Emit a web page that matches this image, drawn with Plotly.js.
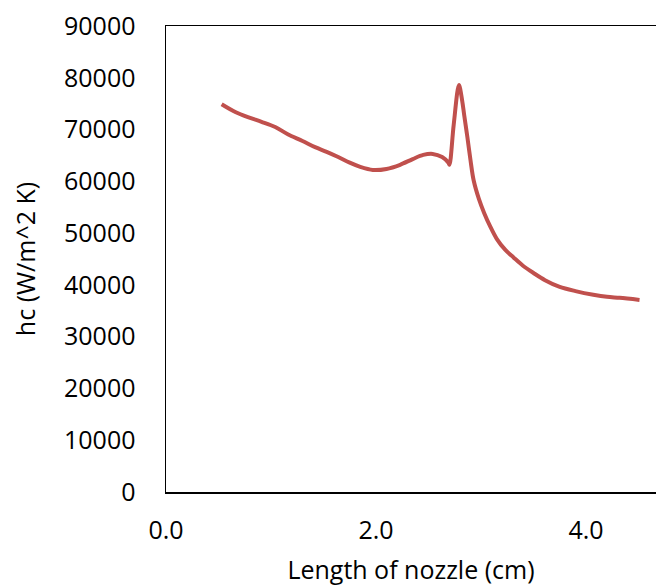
<!DOCTYPE html>
<html>
<head>
<meta charset="utf-8">
<script src="https://cdn.plot.ly/plotly-3.0.1.min.js"></script>
<style>html,body{margin:0;padding:0;background:#fff;overflow:hidden;}#chart{width:656px;height:586px;}</style>
</head>
<body>
<div id="chart"></div>
<script>
const nozzleLength = [0.53, 0.66, 0.78, 0.91, 1.04, 1.16, 1.30, 1.42, 1.53, 1.64, 1.75, 1.85, 1.97, 2.10, 2.23, 2.35, 2.45, 2.54, 2.63, 2.69, 2.70, 2.74, 2.79, 2.82, 2.84, 2.87, 2.90, 2.93, 2.98, 3.03, 3.09, 3.15, 3.23, 3.31, 3.40, 3.50, 3.61, 3.75, 3.90, 4.07, 4.20, 4.32, 4.51];
const hcValues = [74900, 73400, 72400, 71500, 70500, 69100, 67800, 66600, 65700, 64700, 63600, 62800, 62200, 62400, 63200, 64300, 65100, 65300, 64700, 63600, 63200, 70900, 78600, 75700, 72800, 68600, 64100, 60200, 56600, 53900, 51200, 48900, 46800, 45300, 43700, 42300, 40900, 39600, 38800, 38100, 37700, 37500, 37100];
const yTickValues = [0, 10000, 20000, 30000, 40000, 50000, 60000, 70000, 80000, 90000];
const yTickLabels = ['0', '10000', '20000', '30000', '40000', '50000', '60000', '70000', '80000', '90000'];
const xTickValues = [0, 2, 4];
const xTickLabels = ['0.0', '2.0', '4.0'];

const font = {family: 'Open Sans, Liberation Sans, sans-serif', size: 25, color: '#000'};

Plotly.newPlot('chart', [{
  x: nozzleLength,
  y: hcValues,
  type: 'scatter',
  mode: 'lines',
  line: {color: '#C0504D', width: 4, shape: 'spline', smoothing: 0.9},
  hoverinfo: 'x+y'
}], {
  width: 656,
  height: 586,
  margin: {l: 166, r: 0, t: 26, b: 94},
  paper_bgcolor: '#fff',
  plot_bgcolor: '#fff',
  showlegend: false,
  font: font,
  xaxis: {
    range: [0, 4.667],
    tickvals: xTickValues,
    ticktext: xTickLabels,
    showgrid: false,
    zeroline: false,
    showline: true,
    linecolor: '#000',
    linewidth: 1.5,
    mirror: true,
    ticks: '',
    ticklabelstandoff: 15,
    tickfont: font,
    title: {text: 'Length of nozzle (cm)', font: font, standoff: 19}
  },
  yaxis: {
    range: [0, 90000],
    tickvals: yTickValues,
    ticktext: yTickLabels,
    showgrid: false,
    zeroline: false,
    showline: true,
    linecolor: '#000',
    linewidth: 1.5,
    ticks: '',
    ticklabelstandoff: 24,
    tickfont: font,
    title: {text: 'hc (W/m^2 K)', font: font, standoff: 21}
  }
}, {displayModeBar: false, staticPlot: true});
</script>
</body>
</html>
